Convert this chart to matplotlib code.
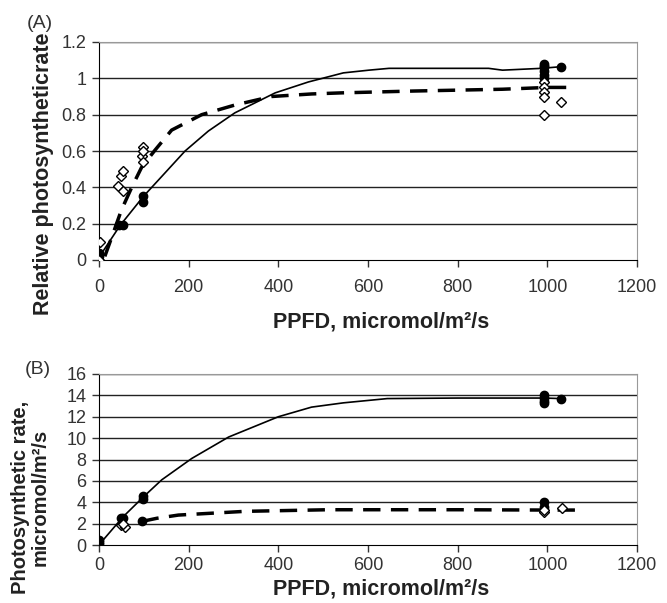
import matplotlib.pyplot as plt

plt.rcParams['font.family'] = ['Liberation Sans', 'DejaVu Sans']

# panel A: relative photosynthetic rate
a_solid_x = [0, 6, 47, 99, 140, 192, 244, 303, 393, 467, 545, 602, 647, 869, 900, 987, 1030]
a_solid_y = [0, 0.037, 0.19, 0.35, 0.46, 0.60, 0.71, 0.81, 0.92, 0.98, 1.03, 1.045, 1.055,
             1.055, 1.045, 1.055, 1.064]
a_dash_x = [13, 32, 50, 73, 95, 125, 162, 229, 303, 385, 474, 541, 700, 900, 1000, 1055]
a_dash_y = [0.02, 0.15, 0.275, 0.40, 0.51, 0.605, 0.715, 0.80, 0.853, 0.90, 0.914, 0.92,
            0.93, 0.94, 0.95, 0.95]
a_fill_x = [0, 0, 0, 44, 53, 99, 99, 993, 993, 993, 993, 993, 993, 1030]
a_fill_y = [0.0, 0.02, 0.04, 0.19, 0.19, 0.32, 0.355, 1.0, 1.02, 1.04, 1.06, 1.07, 1.08, 1.064]
a_open_x = [2, 0, 43, 54, 49, 54, 99, 97, 99, 99, 993, 993, 993, 993, 993, 1030]
a_open_y = [0.10, 0.0, 0.41, 0.38, 0.46, 0.49, 0.62, 0.57, 0.54, 0.60, 0.98, 0.95, 0.926,
            0.90, 0.80, 0.87]

# panel B: photosynthetic rate
b_solid_x = [0, 6, 54, 99, 140, 207, 289, 400, 474, 545, 643, 800, 993, 1030]
b_solid_y = [0, 0.31, 2.65, 4.5, 6.1, 8.1, 10.1, 12.0, 12.9, 13.3, 13.7, 13.75, 13.75, 13.7]
b_dash_x = [95, 129, 177, 326, 511, 800, 1000, 1065]
b_dash_y = [2.2, 2.5, 2.8, 3.15, 3.3, 3.3, 3.27, 3.27]
b_fill_x = [0, 0, 0, 48, 54, 99, 99, 95, 993, 993, 993, 993, 993, 993, 1030]
b_fill_y = [0.1, 0.3, 0.5, 2.5, 2.55, 4.3, 4.6, 2.2, 13.3, 13.5, 13.8, 14.0, 3.6, 4.0, 13.7]
b_open_x = [50, 58, 54, 993, 993, 1032]
b_open_y = [1.9, 1.7, 2.0, 3.1, 3.3, 3.43]

xticks = [0, 200, 400, 600, 800, 1000, 1200]
xlabel = 'PPFD, micromol/m²/s'

fig = plt.figure(figsize=(6.67, 6.03), dpi=100)
axA = fig.add_axes([99/667, 1-260/603, 538/667, 218/603])
axB = fig.add_axes([99/667, 1-545/603, 538/667, 171/603])


def style(ax, ymax, ystep, xpad):
    ax.set_xlim(0, 1200)
    ax.set_ylim(0, ymax)
    ax.set_xticks(xticks)
    n = int(round(ymax / ystep))
    yt = [i * ystep for i in range(n + 1)]
    ax.set_yticks(yt)
    ax.set_yticklabels(['%g' % round(v, 1) for v in yt])
    for v in yt[1:]:
        ax.axhline(v, color='#222222', lw=1.0, zorder=1)
    ax.spines['top'].set_color('#999999')
    ax.spines['right'].set_color('#999999')
    ax.tick_params(direction='out', length=5, width=1, labelsize=13, colors='#333333')
    ax.tick_params(axis='x', pad=xpad)
    ax.tick_params(axis='y', pad=4)


style(axA, 1.2, 0.2, 9)
axA.plot(a_solid_x, a_solid_y, color='black', lw=1.2, zorder=3)
axA.plot(a_dash_x, a_dash_y, color='black', lw=2.5, ls=(0, (5, 3)), zorder=3)
axA.plot(a_fill_x, a_fill_y, 'o', color='black', ms=6, zorder=4)
axA.plot(a_open_x, a_open_y, 'D', mfc='white', mec='black', ms=5, mew=1, zorder=5)

style(axB, 16, 2, 4)
axB.plot(b_solid_x, b_solid_y, color='black', lw=1.2, zorder=3)
axB.plot(b_dash_x, b_dash_y, color='black', lw=2.5, ls=(0, (5, 3)), zorder=3)
axB.plot(b_fill_x, b_fill_y, 'o', color='black', ms=6, zorder=4)
axB.plot(b_open_x, b_open_y, 'D', mfc='white', mec='black', ms=5, mew=1, zorder=5)

# axis titles placed as in the original figure
fig.text(44/667, 1-174/603, 'Relative photosyntheticrate', rotation=90, ha='center',
         va='center', fontsize=15.5, fontweight='bold', color='#222222')
fig.text(30/667, 1-497/603, 'Photosynthetic rate,\nmicromol/m²/s', rotation=90,
         ha='center', va='center', ma='center', fontsize=14.5, fontweight='bold',
         linespacing=1.05, color='#222222')
fig.text(381/667, 1-322/603, xlabel, ha='center', va='center', fontsize=15.5,
         fontweight='bold', color='#222222')
fig.text(381/667, 1-589/603, xlabel, ha='center', va='center', fontsize=15.5,
         fontweight='bold', color='#222222')

fig.text(40/667, 1-24/603, '(A)', fontsize=14, ha='center', va='center', color='#333333')
fig.text(38/667, 1-370/603, '(B)', fontsize=14, ha='center', va='center', color='#333333')

fig.savefig('out.png', dpi=100)
